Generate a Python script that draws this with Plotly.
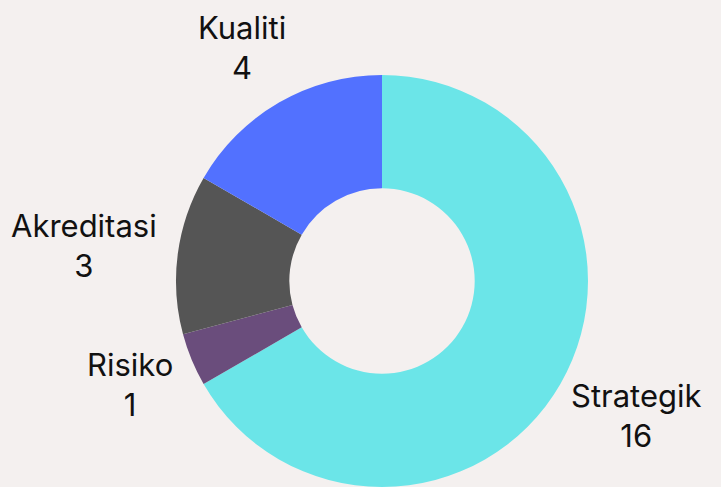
import math
import plotly.graph_objects as go

labels = ["Strategik", "Risiko", "Akreditasi", "Kualiti"]
values = [16, 1, 3, 4]
colors = ["#6be5e8", "#6a4d7c", "#555555", "#5271ff"]

W, H = 721, 487
M = dict(l=175, r=132, t=75, b=0)
FONT_SIZE = 31
LINE_H = 40
CHAR_W = 14.2
LABEL_OFFSET = 24

fig = go.Figure(go.Pie(
    labels=labels,
    values=values,
    marker=dict(colors=colors, line=dict(width=0)),
    hole=0.45,
    sort=False,
    direction="clockwise",
    rotation=0,
    textinfo="none",
    showlegend=False,
    hoverinfo="label+value",
))

# outer labels placed along each slice's mid-angle (computed from the values)
plot_w = W - M["l"] - M["r"]
plot_h = H - M["t"] - M["b"]
R = min(plot_w, plot_h) / 2
total = sum(values)
cum = 0
annotations = []
for lab, v in zip(labels, values):
    mid = (cum + v / 2) / total * 2 * math.pi
    cum += v
    dx, dy = math.sin(mid), math.cos(mid)
    w = CHAR_W * len(lab)
    h = 2 * LINE_H
    sx = (R + LABEL_OFFSET) * dx + dx * w / 2
    sy = (R + LABEL_OFFSET) * dy + dy * h / 2
    annotations.append(dict(
        x=0.5, y=0.5, xref="paper", yref="paper",
        xshift=sx, yshift=sy,
        text=f"{lab}<br>{v}",
        showarrow=False, xanchor="center", yanchor="middle",
        align="center",
        font=dict(family="Inter", size=FONT_SIZE, color="#111111"),
    ))

fig.update_layout(
    width=W, height=H,
    margin=M,
    paper_bgcolor="#f4f0ef",
    plot_bgcolor="#f4f0ef",
    annotations=annotations,
)

fig.write_html(
    "out.html",
    config={"displayModeBar": False},
    post_script="document.body.style.margin='0';document.body.style.background='#f4f0ef';",
)
